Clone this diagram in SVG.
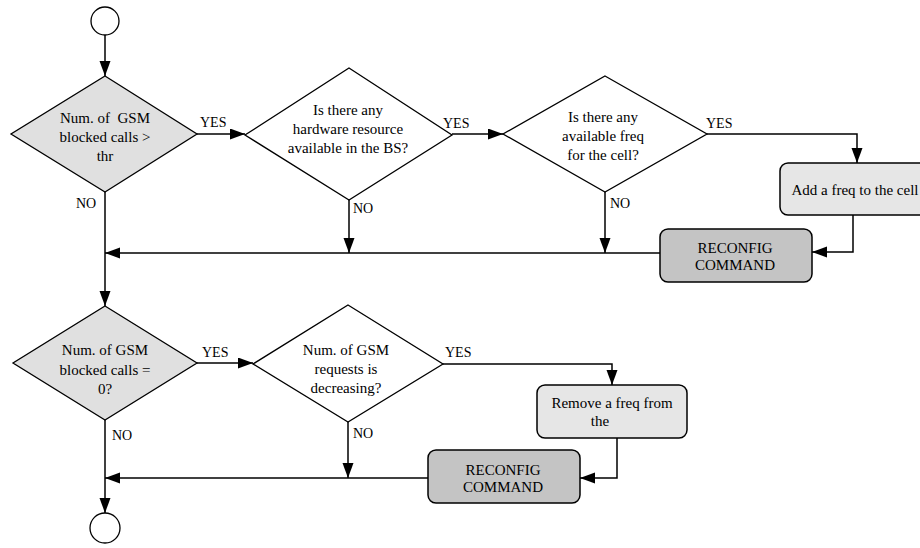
<svg xmlns="http://www.w3.org/2000/svg" width="920" height="548" viewBox="0 0 920 548">
<defs>
<style>
.t{font-family:"Liberation Serif","Times New Roman",serif;font-size:15px;fill:#000;text-anchor:middle}
.l{font-family:"Liberation Serif","Times New Roman",serif;font-size:14px;fill:#000}
.d{fill:#e0e0e0;stroke:#000;stroke-width:1.3}
.dw{fill:#fff;stroke:#000;stroke-width:1.3}
.b{fill:#e6e6e6;stroke:#000;stroke-width:1.5}
.r{fill:#c4c4c4;stroke:#000;stroke-width:1.5}
.c{fill:#fff;stroke:#000;stroke-width:1.3}
.e{fill:none;stroke:#000;stroke-width:1.5}
</style>
<marker id="a" markerUnits="userSpaceOnUse" markerWidth="16" markerHeight="12" refX="15" refY="5.5" orient="auto"><path d="M0,0 L15,5.5 L0,11 Z" fill="#000"/></marker>
</defs>
<g id="start"><circle class="c" cx="105" cy="21" r="14"/></g>
<g id="d1"><polygon class="d" points="105,76 197,134 105,192 11,134"/>
<text class="t" x="105" y="123">Num. of&#160; GSM</text><text class="t" x="105" y="142">blocked calls &gt;</text><text class="t" x="105" y="161">thr</text></g>
<g id="d2"><polygon class="dw" points="349,68 452,135 349,200 245,135"/>
<text class="t" x="348" y="115">Is there any</text><text class="t" x="348" y="134">hardware resource</text><text class="t" x="348" y="153">available in the BS?</text></g>
<g id="d3"><polygon class="dw" points="605,76 707,134 605,192 503,134"/>
<text class="t" x="603" y="122">Is there any</text><text class="t" x="603" y="141">available freq</text><text class="t" x="603" y="160">for the cell?</text></g>
<g id="add"><rect class="b" x="780" y="163" width="150" height="52" rx="8"/><text class="t" x="855" y="195">Add a freq to the cell</text></g>
<g id="rc1"><rect class="r" x="660" y="229" width="152" height="53" rx="8"/><text class="t" x="735" y="253">RECONFIG</text><text class="t" x="735" y="270">COMMAND</text></g>
<g id="d4"><polygon class="d" points="105,306 197,363 105,420 13,363"/>
<text class="t" x="105" y="355">Num. of GSM</text><text class="t" x="105" y="375">blocked calls =</text><text class="t" x="105" y="394">0?</text></g>
<g id="d5"><polygon class="dw" points="348,305 443,364 348,422 253,364"/>
<text class="t" x="346" y="355">Num. of GSM</text><text class="t" x="346" y="374">requests is</text><text class="t" x="346" y="393">decreasing?</text></g>
<g id="rem"><rect class="b" x="537" y="385" width="150" height="53" rx="8"/><text class="t" x="612" y="408">Remove a freq from</text><text class="t" x="600" y="426">the</text></g>
<g id="rc2"><rect class="r" x="428" y="450" width="152" height="53" rx="8"/><text class="t" x="503" y="475">RECONFIG</text><text class="t" x="503" y="492">COMMAND</text></g>
<g id="end"><circle class="c" cx="105" cy="528" r="15"/></g>
<g id="connectors">
<path class="e" d="M105,35 V76" marker-end="url(#a)"/>
<path class="e" d="M197,134 H245" marker-end="url(#a)"/>
<path class="e" d="M452,134 H503" marker-end="url(#a)"/>
<path class="e" d="M707,134 H857 V163" marker-end="url(#a)"/>
<path class="e" d="M349,200 V253" marker-end="url(#a)"/>
<path class="e" d="M605,192 V253" marker-end="url(#a)"/>
<path class="e" d="M853,215 V252 H812" marker-end="url(#a)"/>
<path class="e" d="M660,253 H105" marker-end="url(#a)"/>
<path class="e" d="M105,192 V306" marker-end="url(#a)"/>
<path class="e" d="M197,363 H253" marker-end="url(#a)"/>
<path class="e" d="M443,364 H612 V385" marker-end="url(#a)"/>
<path class="e" d="M348,422 V478" marker-end="url(#a)"/>
<path class="e" d="M617,438 V478 H580" marker-end="url(#a)"/>
<path class="e" d="M428,478 H105" marker-end="url(#a)"/>
<path class="e" d="M105,420 V513" marker-end="url(#a)"/>
</g>
<g id="labels">
<text class="l" x="200" y="127">YES</text>
<text class="l" x="443" y="128">YES</text>
<text class="l" x="706" y="128">YES</text>
<text class="l" x="76" y="208">NO</text>
<text class="l" x="353" y="213">NO</text>
<text class="l" x="610" y="208">NO</text>
<text class="l" x="202" y="357">YES</text>
<text class="l" x="445" y="357">YES</text>
<text class="l" x="112" y="440">NO</text>
<text class="l" x="353" y="438">NO</text>
</g>
</svg>
